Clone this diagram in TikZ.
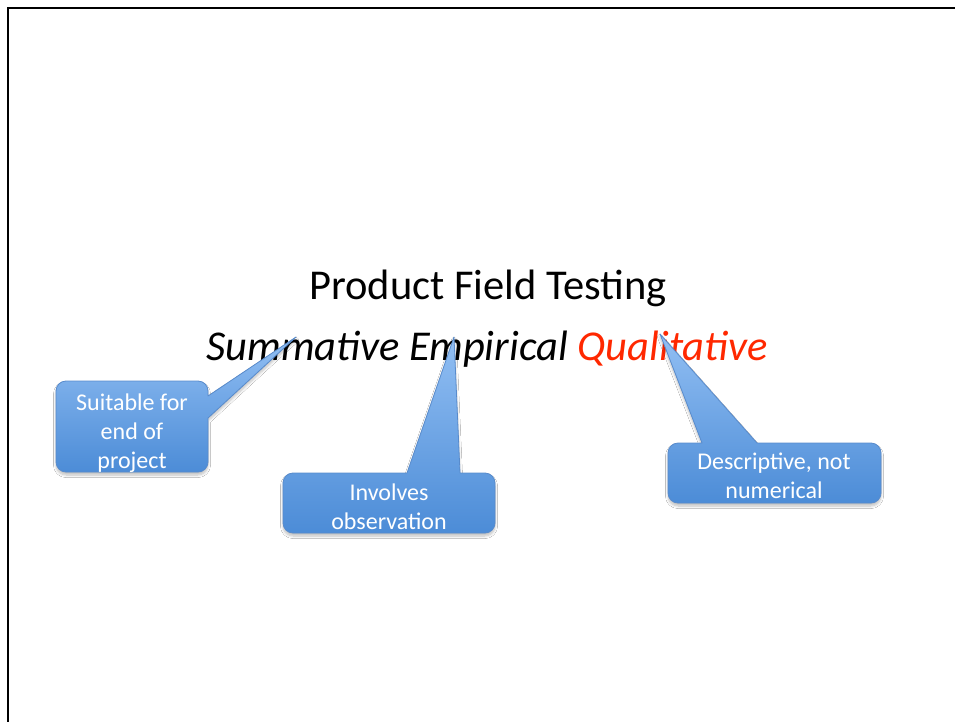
\documentclass[tikz,border=0pt]{standalone}
\usepackage{fontspec}
\setmainfont{Carlito}
\usetikzlibrary{shadows.blur}
\definecolor{calloutTop}{RGB}{146,191,243}
\definecolor{calloutBot}{RGB}{76,140,215}
\definecolor{calloutLine}{RGB}{88,139,204}
\definecolor{accentRed}{RGB}{255,40,0}
\tikzset{
  callout/.style={top color=calloutTop, bottom color=calloutBot, draw=calloutLine, line width=0.8pt,
    line join=round,
    blur shadow={shadow xshift=0pt, shadow yshift=-3pt, shadow blur steps=6, shadow blur radius=2.5pt, shadow opacity=25}},
  callouttext/.style={text=white, align=center, font=\fontsize{24}{29}\selectfont, inner sep=0pt},
  headline/.style={font=\fontsize{42.5}{50}\selectfont, inner sep=0pt, anchor=base},
}
\begin{document}
\begin{tikzpicture}[x=1pt, y=-1pt]
\useasboundingbox (0,0) rectangle (955,722);
\fill[white] (0,0) rectangle (955,722);
% slide frame
\draw[line width=2pt] (955,8) -- (8,8) -- (8,722);

% headings
\node[headline] (title) at (488,299) {Product Field Testing};
\node[headline] (kinds) at (487,360) {\itshape Summative Empirical \textcolor{accentRed}{Qualitative}};

% callout pointer tips
\coordinate (tipA) at (296,337);
\coordinate (tipB) at (454,337);
\coordinate (tipC) at (660,334);

% callout: Suitable for end of project
\path[callout] (66,381) -- (198,381) .. controls (203.5,381) and (208,385.5) .. (208,391)
  -- (208,396) -- (tipA) -- (208,418)
  -- (208,462) .. controls (208,467.5) and (203.5,472) .. (198,472)
  -- (66,472) .. controls (60.5,472) and (56,467.5) .. (56,462)
  -- (56,391) .. controls (56,385.5) and (60.5,381) .. (66,381) -- cycle;
\node[callouttext] (endproj) at (132,433) {Suitable for\\end of\\project};

% callout: Involves observation
\path[callout] (293,473) -- (407,473) -- (tipB) -- (460,473)
  -- (485,473) .. controls (490.5,473) and (495,477.5) .. (495,483)
  -- (495,523) .. controls (495,528.5) and (490.5,533) .. (485,533)
  -- (293,533) .. controls (287.5,533) and (283,528.5) .. (283,523)
  -- (283,483) .. controls (283,477.5) and (287.5,473) .. (293,473) -- cycle;
\node[callouttext] (observe) at (389,507) {Involves\\observation};

% callout: Descriptive, not numerical
\path[callout] (678,443) -- (702,443) -- (tipC) -- (757,443)
  -- (871,443) .. controls (876.5,443) and (881,447.5) .. (881,453)
  -- (881,493) .. controls (881,498.5) and (876.5,503) .. (871,503)
  -- (678,503) .. controls (672.5,503) and (668,498.5) .. (668,493)
  -- (668,453) .. controls (668,447.5) and (672.5,443) .. (678,443) -- cycle;
\node[callouttext] (descr) at (774,476) {Descriptive, not\\numerical};
\end{tikzpicture}
\end{document}
